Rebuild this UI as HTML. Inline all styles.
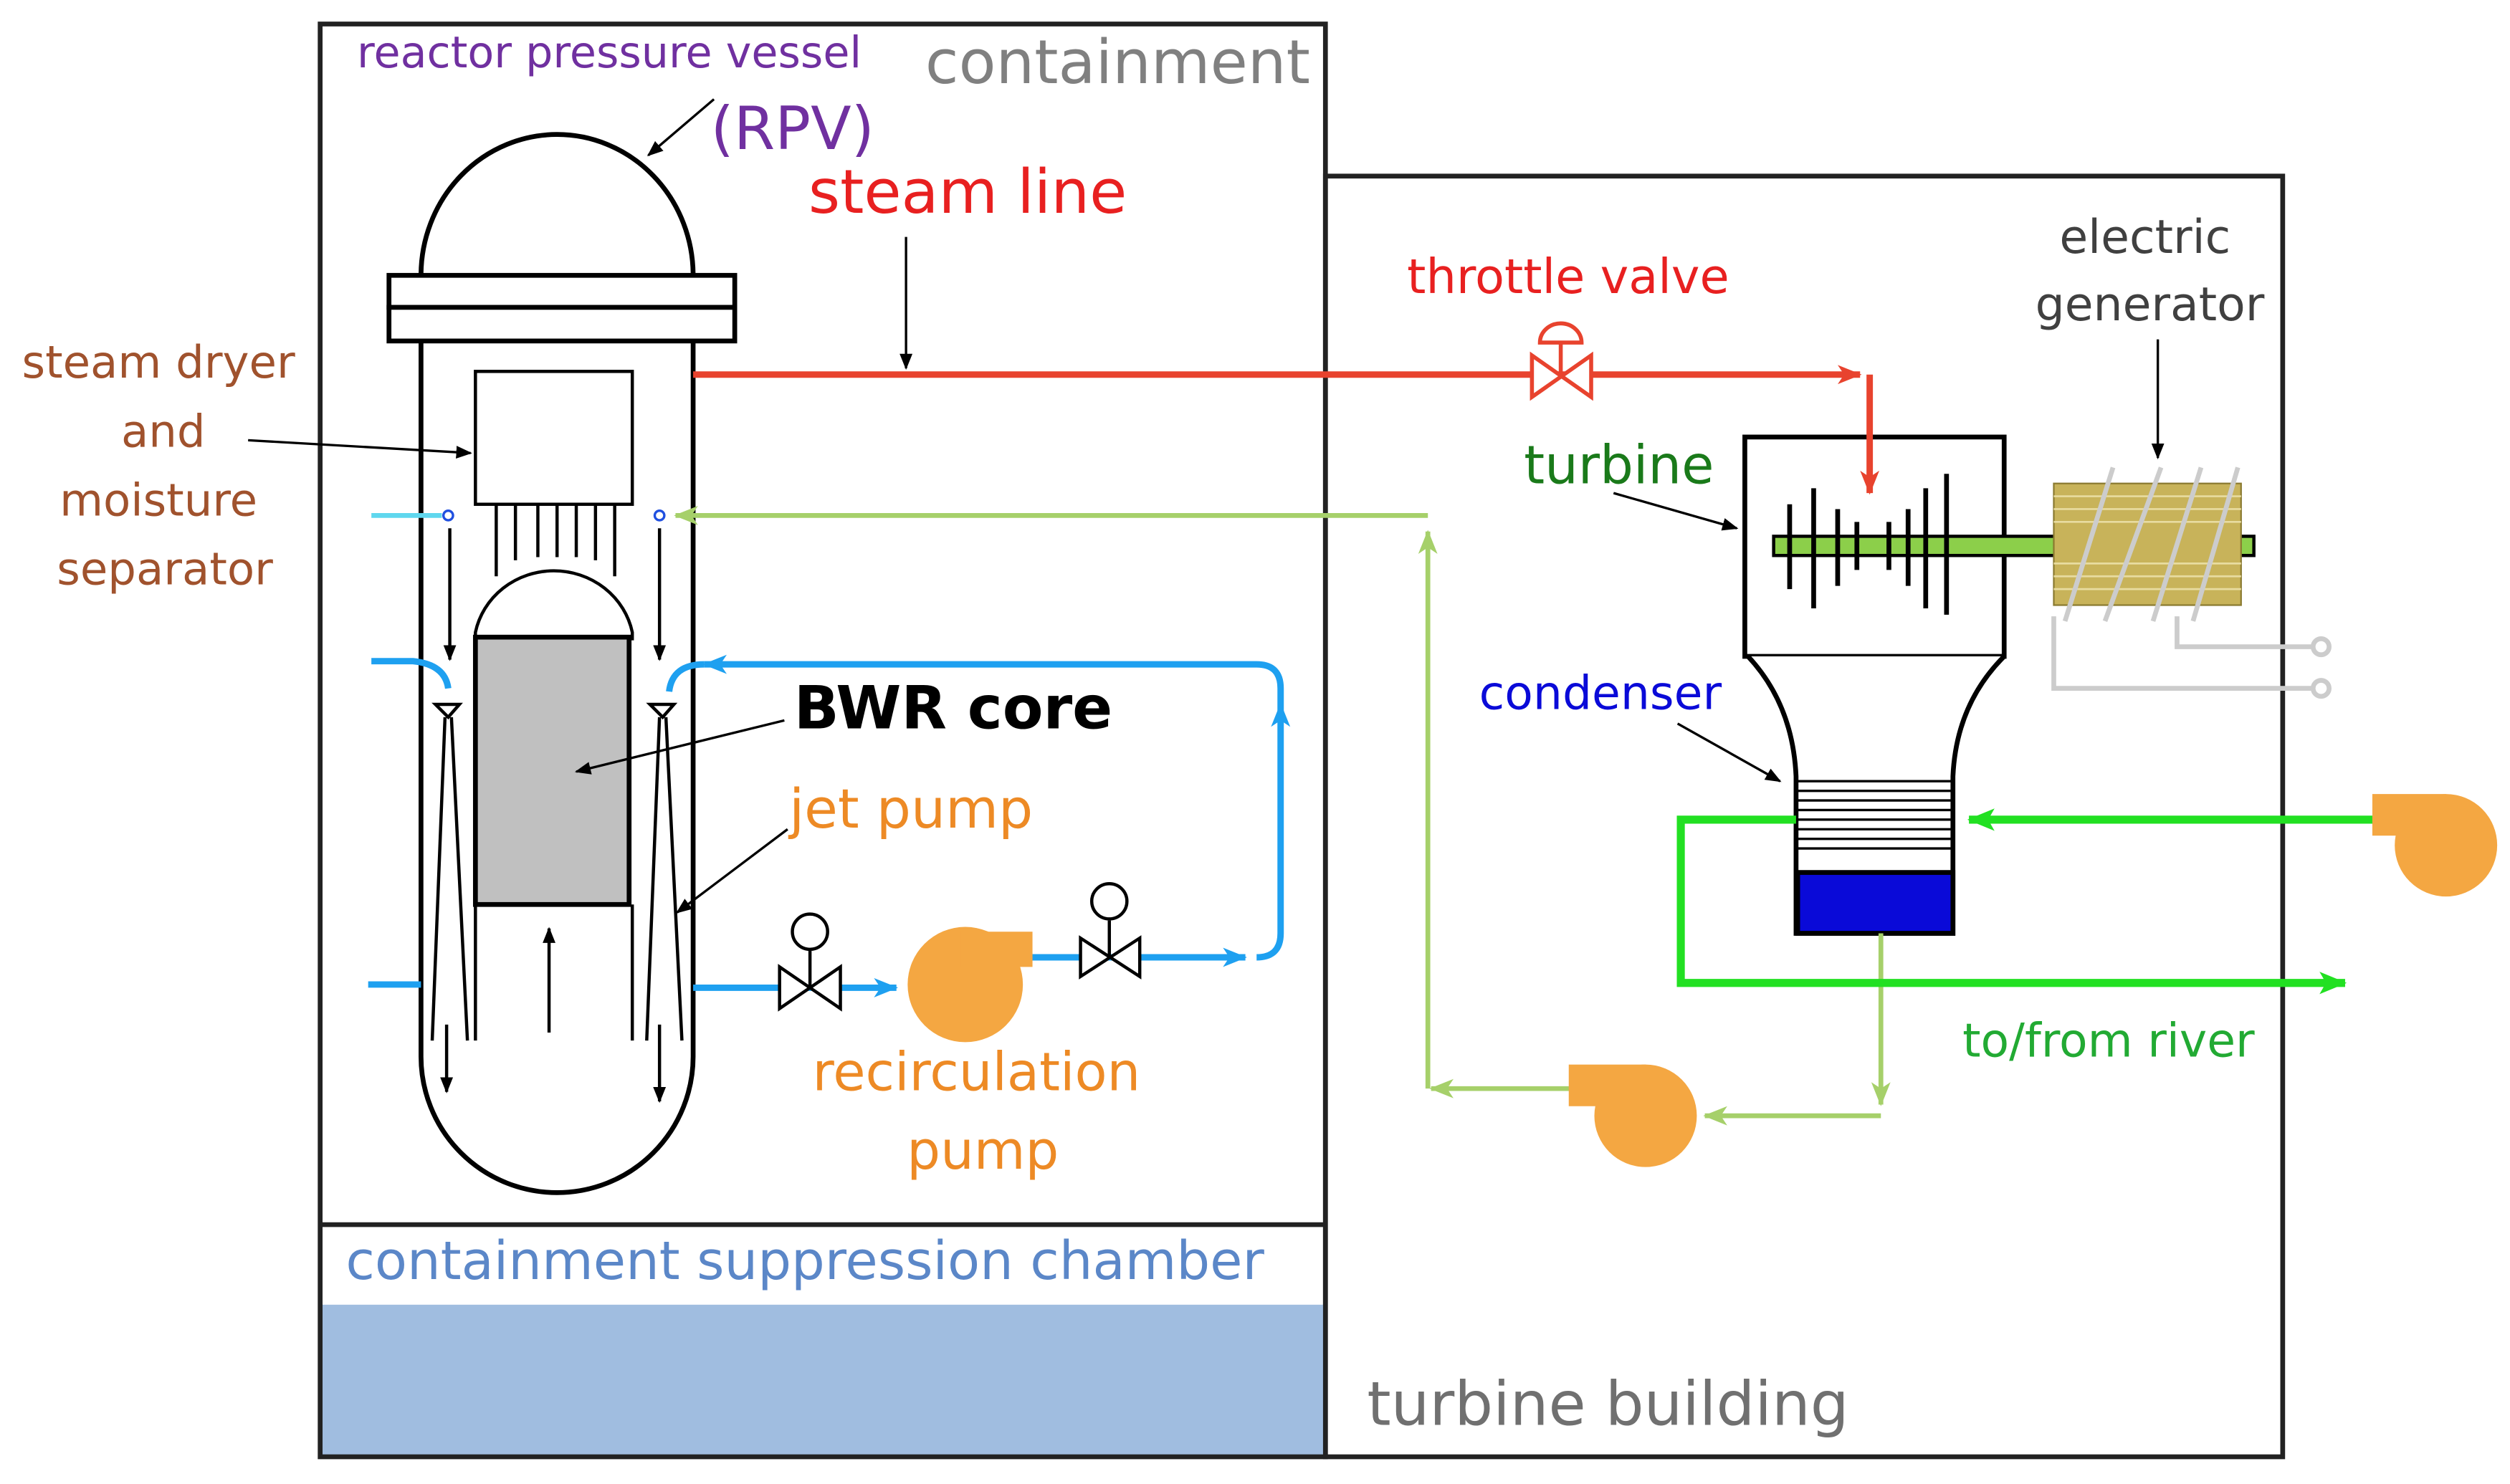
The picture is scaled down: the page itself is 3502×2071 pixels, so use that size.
<!DOCTYPE html>
<html><head><meta charset="utf-8">
<style>
html,body{margin:0;padding:0;background:#fff;}
svg{display:block;}
text{font-family:"DejaVu Sans","Liberation Sans",sans-serif;}
</style></head><body>
<svg width="3502" height="2071" viewBox="0 0 1568 927" preserveAspectRatio="none" xmlns="http://www.w3.org/2000/svg">
<defs>
<marker id="ak" markerWidth="10" markerHeight="10" refX="9" refY="5" orient="auto" markerUnits="userSpaceOnUse"><path d="M0,1 L10,5 L0,9 Z" fill="#000"/></marker>
<marker id="ar" markerWidth="16" markerHeight="14" refX="14" refY="7" orient="auto" markerUnits="userSpaceOnUse"><path d="M0,1 L15,7 L0,13 L4,7 Z" fill="#e8432e"/></marker>
<marker id="ab" markerWidth="16" markerHeight="14" refX="14" refY="7" orient="auto" markerUnits="userSpaceOnUse"><path d="M0,1 L15,7 L0,13 L4,7 Z" fill="#1ea0f0"/></marker>
<marker id="ag" markerWidth="16" markerHeight="14" refX="14" refY="7" orient="auto" markerUnits="userSpaceOnUse"><path d="M0,1 L15,7 L0,13 L4,7 Z" fill="#a6d06a"/></marker>
<marker id="aG" markerWidth="18" markerHeight="16" refX="16" refY="8" orient="auto" markerUnits="userSpaceOnUse"><path d="M0,1 L17,8 L0,15 L4,8 Z" fill="#22e022"/></marker>
</defs>

<rect x="828" y="110" width="598" height="800" fill="none" stroke="#222" stroke-width="3"/>
<rect x="200" y="815" width="628" height="95" fill="#a0bde0"/>
<rect x="200" y="15" width="628" height="895" fill="none" stroke="#222" stroke-width="3"/>
<line x1="200" y1="765" x2="828" y2="765" stroke="#222" stroke-width="3"/>

<path d="M263,172 A85,88 0 0 1 433,172" fill="none" stroke="#000" stroke-width="3"/>
<rect x="243" y="172" width="216" height="20" fill="#fff" stroke="#000" stroke-width="3"/>
<rect x="243" y="192" width="216" height="21" fill="#fff" stroke="#000" stroke-width="3"/>
<path d="M263,213 L263,660 A85,85 0 0 0 433,660 L433,213" fill="none" stroke="#000" stroke-width="3"/>
<rect x="297" y="232" width="98" height="83" fill="#fff" stroke="#000" stroke-width="2"/>
<g stroke="#000" stroke-width="2"><line x1="310" y1="315" x2="310" y2="360"/><line x1="322" y1="315" x2="322" y2="350"/><line x1="336" y1="315" x2="336" y2="348"/><line x1="348" y1="315" x2="348" y2="348"/><line x1="360" y1="315" x2="360" y2="348"/><line x1="372" y1="315" x2="372" y2="350"/><line x1="384" y1="315" x2="384" y2="360"/></g>
<path d="M297,400 L297,395 A50,48 0 0 1 395,395 L395,400" fill="#fff" stroke="#000" stroke-width="2"/>
<rect x="297" y="398" width="96" height="167" fill="#c0c0c0" stroke="#000" stroke-width="3"/>
<line x1="297" y1="565" x2="297" y2="650" stroke="#000" stroke-width="2"/>
<line x1="395" y1="565" x2="395" y2="650" stroke="#000" stroke-width="2"/>
<line x1="343" y1="645" x2="343" y2="580" stroke="#000" stroke-width="2" marker-end="url(#ak)"/>
<g fill="none" stroke="#000" stroke-width="2">
<path d="M272,440 L287,440 L280,448 Z"/><path d="M278,448 L270,650 M282,448 L292,650"/>
<path d="M406,440 L421,440 L414,448 Z"/><path d="M412,448 L404,650 M416,448 L426,650"/>
</g>
<line x1="281" y1="330" x2="281" y2="412" stroke="#000" stroke-width="2" marker-end="url(#ak)"/>
<line x1="412" y1="330" x2="412" y2="412" stroke="#000" stroke-width="2" marker-end="url(#ak)"/>
<line x1="279" y1="640" x2="279" y2="682" stroke="#000" stroke-width="2" marker-end="url(#ak)"/>
<line x1="412" y1="640" x2="412" y2="688" stroke="#000" stroke-width="2" marker-end="url(#ak)"/>
<line x1="232" y1="322" x2="276" y2="322" stroke="#5fd7ee" stroke-width="3"/>
<circle cx="280" cy="322" r="3" fill="none" stroke="#2050e0" stroke-width="1.5"/>
<circle cx="412" cy="322" r="3" fill="none" stroke="#2050e0" stroke-width="1.5"/>

<line x1="433" y1="234" x2="1162" y2="234" stroke="#e8432e" stroke-width="4" marker-end="url(#ar)"/>
<g stroke="#e8432e" stroke-width="2.5" fill="#fff">
<path d="M957,222 L957,248 L994,222 L994,248 Z"/>
<line x1="975" y1="235" x2="975" y2="214"/>
<path d="M962,214 A13,12 0 0 1 988,214 Z"/>
</g>

<rect x="1090" y="273" width="162" height="137" fill="#fff" stroke="#000" stroke-width="3"/>
<path d="M1092,410 Q1120,440 1122,485 L1122,583 L1220,583 L1220,485 Q1222,440 1252,410" fill="#fff" stroke="#000" stroke-width="3"/>
<g stroke="#000" stroke-width="1.5"><line x1="1122" y1="488" x2="1220" y2="488"/><line x1="1122" y1="494" x2="1220" y2="494"/><line x1="1122" y1="500" x2="1220" y2="500"/><line x1="1122" y1="506" x2="1220" y2="506"/><line x1="1122" y1="512" x2="1220" y2="512"/><line x1="1122" y1="518" x2="1220" y2="518"/><line x1="1122" y1="524" x2="1220" y2="524"/><line x1="1122" y1="530" x2="1220" y2="530"/></g>
<rect x="1123" y="545" width="97" height="38" fill="#0a0ad8" stroke="#000" stroke-width="3"/>
<rect x="1108" y="335" width="300" height="12" fill="#8ccf4a" stroke="#000" stroke-width="2"/>
<g stroke="#000" stroke-width="3">
<line x1="1118" y1="315" x2="1118" y2="368"/><line x1="1133" y1="305" x2="1133" y2="380"/><line x1="1148" y1="318" x2="1148" y2="366"/><line x1="1160" y1="326" x2="1160" y2="356"/><line x1="1180" y1="326" x2="1180" y2="356"/><line x1="1192" y1="318" x2="1192" y2="366"/><line x1="1203" y1="305" x2="1203" y2="380"/><line x1="1216" y1="296" x2="1216" y2="384"/>
</g>
<path d="M1168,234 L1168,308" stroke="#e8432e" stroke-width="4" fill="none" marker-end="url(#ar)"/>
<rect x="1283" y="302" width="117" height="76" fill="#c8b35a" stroke="#8a7a30" stroke-width="1"/>
<g stroke="#e8dca0" stroke-width="1.2">
<line x1="1283" y1="310" x2="1400" y2="310"/><line x1="1283" y1="318" x2="1400" y2="318"/><line x1="1283" y1="326" x2="1400" y2="326"/><line x1="1283" y1="352" x2="1400" y2="352"/><line x1="1283" y1="360" x2="1400" y2="360"/><line x1="1283" y1="368" x2="1400" y2="368"/></g>
<g fill="none" stroke="#ccc" stroke-width="3">
<path d="M1290,388 L1320,292 M1315,388 L1350,292 M1345,388 L1375,292 M1370,388 L1398,292"/>
<path d="M1283,385 L1283,430 L1445,430 M1360,385 L1360,404 L1445,404"/>
<circle cx="1450" cy="404" r="5"/><circle cx="1450" cy="430" r="5"/>
</g>

<g fill="none" stroke="#a6d06a" stroke-width="3">
<line x1="892" y1="322" x2="422" y2="322" marker-end="url(#ag)"/>
<line x1="892" y1="680" x2="892" y2="332" marker-end="url(#ag)"/>
<line x1="985" y1="680" x2="894" y2="680" marker-end="url(#ag)"/>
<line x1="1175" y1="697" x2="1065" y2="697" marker-end="url(#ag)"/>
<line x1="1175" y1="583" x2="1175" y2="690" marker-end="url(#ag)"/>
</g>
<g fill="none" stroke="#22e022" stroke-width="5">
<path d="M1122,512 L1050,512 L1050,614 L1465,614" marker-end="url(#aG)"/>
<line x1="1490" y1="512" x2="1230" y2="512" marker-end="url(#aG)"/>
</g>

<g fill="none" stroke="#1ea0f0" stroke-width="4">
<line x1="230" y1="615" x2="263" y2="615"/>
<path d="M232,413 L258,413 Q278,415 280,430"/>
<line x1="433" y1="617" x2="560" y2="617" marker-end="url(#ab)"/>
<line x1="640" y1="598" x2="778" y2="598" marker-end="url(#ab)"/>
<path d="M785,598 Q800,598 800,583 L800,440" marker-end="url(#ab)"/>
<path d="M800,440 L800,430 Q800,415 785,415 L440,415" marker-end="url(#ab)"/>
<path d="M440,415 Q420,415 418,432"/>
</g>
<g stroke="#000" stroke-width="2" fill="#fff">
<path d="M487,604 L487,630 L525,604 L525,630 Z"/><line x1="506" y1="617" x2="506" y2="594"/><circle cx="506" cy="582" r="11"/>
<path d="M675,586 L675,610 L712,586 L712,610 Z"/><line x1="693" y1="598" x2="693" y2="575"/><circle cx="693" cy="563" r="11"/>
</g>
<g fill="#f4a742">
<circle cx="603" cy="615" r="36"/><rect x="600" y="582" width="45" height="22"/>
<circle cx="1028" cy="697" r="32"/><rect x="980" y="665" width="48" height="26"/>
<circle cx="1528" cy="528" r="32"/><rect x="1482" y="496" width="46" height="26"/>
</g>

<g stroke="#000" stroke-width="1.5" fill="none">
<line x1="446" y1="62" x2="405" y2="97" marker-end="url(#ak)"/>
<line x1="566" y1="148" x2="566" y2="230" marker-end="url(#ak)"/>
<line x1="155" y1="275" x2="294" y2="283" marker-end="url(#ak)"/>
<line x1="490" y1="450" x2="360" y2="482" marker-end="url(#ak)"/>
<line x1="492" y1="518" x2="423" y2="570" marker-end="url(#ak)"/>
<line x1="1008" y1="308" x2="1085" y2="330" marker-end="url(#ak)"/>
<line x1="1048" y1="452" x2="1112" y2="488" marker-end="url(#ak)"/>
<line x1="1348" y1="212" x2="1348" y2="286" marker-end="url(#ak)"/>
</g>

<text x="223" y="42" font-size="27" fill="#7030a0">reactor pressure vessel</text>
<text x="444" y="93" font-size="37" fill="#7030a0">(RPV)</text>
<text x="578" y="52" font-size="38" fill="#808080">containment</text>
<text x="505" y="133" font-size="38" fill="#e82020">steam line</text>
<g font-size="28" fill="#a0522d" text-anchor="middle">
<text x="99" y="236">steam dryer</text><text x="102" y="279">and</text><text x="99" y="322">moisture</text><text x="103" y="365">separator</text>
</g>
<text x="496" y="455" font-size="37" font-weight="bold" fill="#000">BWR core</text>
<text x="493" y="517" font-size="34" fill="#ed8a25">jet pump</text>
<text x="610" y="681" font-size="33" fill="#ed8a25" text-anchor="middle">recirculation</text>
<text x="614" y="730" font-size="33" fill="#ed8a25" text-anchor="middle">pump</text>
<text x="216" y="799" font-size="33" fill="#5b87c8">containment suppression chamber</text>
<text x="854" y="890" font-size="38" fill="#707070">turbine building</text>
<text x="879" y="183" font-size="30" fill="#e82020">throttle valve</text>
<text x="1340" y="158" font-size="29" fill="#404040" text-anchor="middle">electric</text>
<text x="1343" y="200" font-size="29" fill="#404040" text-anchor="middle">generator</text>
<text x="952" y="302" font-size="33" fill="#1a7a1a">turbine</text>
<text x="924" y="443" font-size="29" fill="#0a0ad8">condenser</text>
<text x="1226" y="660" font-size="29" fill="#22aa33">to/from river</text>
</svg>
</body></html>
